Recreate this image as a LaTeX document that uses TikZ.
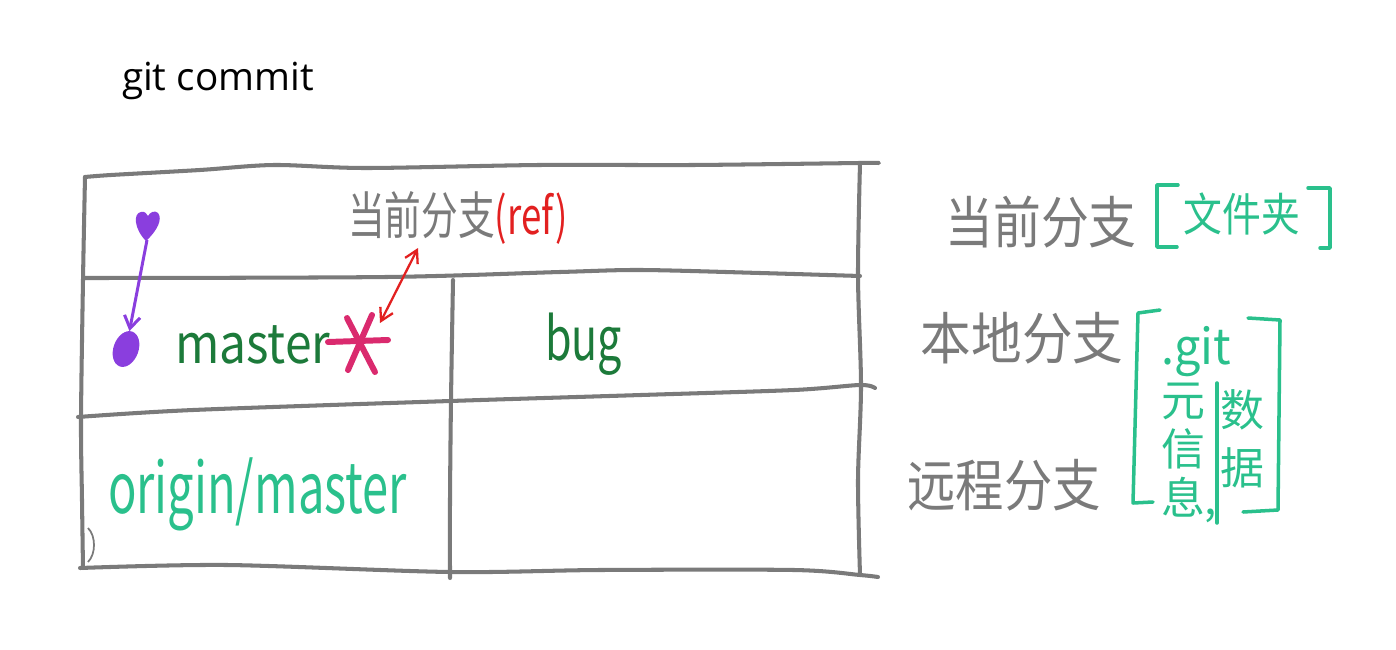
\documentclass[tikz,border=0pt]{standalone}
\usepackage{fontspec}
\setmainfont{Open Sans}
\newfontfamily\cnfont{Noto Sans CJK SC}
\usepackage{xcolor}
\usetikzlibrary{arrows.meta,shapes.geometric}

\definecolor{penGray}{RGB}{122,122,122}
\definecolor{penDark}{RGB}{28,122,58}
\definecolor{penTeal}{RGB}{42,192,140}
\definecolor{penRed}{RGB}{226,32,32}
\definecolor{penPink}{RGB}{218,42,110}
\definecolor{penPurple}{RGB}{138,62,222}

\newcommand{\squeeze}[2]{\scalebox{#1}[1]{#2}}
\newcommand{\pt}[1]{\fontsize{#1}{#1}\selectfont}

\begin{document}
\begin{tikzpicture} [x=0.02cm,y=-0.02cm,
  grid/.style={penGray,line width=2.3pt,line cap=round,line join=round},
  bracket/.style={penTeal,line width=2pt,line cap=round,line join=round},
  hand/.style={inner sep=0pt,outer sep=0pt}]

\useasboundingbox (0,0) rectangle (1396,649);

\node [hand,anchor=base west] (title) at (122,90) {\pt{22}git commit};

% table
\coordinate (tl) at (85,177);
\coordinate (tr) at (860,163);
\coordinate (bl) at (83,568);
\coordinate (br) at (860,575);

\draw[grid] plot[smooth,tension=0.5] coordinates {(tl) (111,175) (200,170) (274,165) (366,168) (539,165) (692,165) (tr) (878,163)};
\draw[grid] plot[smooth,tension=0.5] coordinates {(tl) (83,280) (81,420) (82,500) (bl)};
\draw[grid] plot[smooth,tension=0.5] coordinates {(tr) (858,276) (861,386) (858,480) (br)};
\draw[grid] plot[smooth,tension=0.5] coordinates {(84,278) (386,277) (560,272) (641,270) (760,273) (860,276)};
\draw[grid] plot[smooth,tension=0.5] coordinates {(78,417) (193,410) (450,401) (641,395) (794,390) (860,385) (875,388)};
\draw[grid] plot[smooth,tension=0.5] coordinates {(80,568) (227,565) (450,572) (600,570) (794,570) (br) (878,577)};
\draw[grid] plot[smooth,tension=0.5] coordinates {(453,280) (451,400) (450,500) (450,578)};
\draw[penGray,line width=1pt] (88,528) .. controls (96,536) and (96,554) .. (88,562);

% purple commit
\fill[penPurple] (146,241) .. controls (134,229) and (133,213) .. (141,212)
  .. controls (145,211) and (147,214) .. (148,216)
  .. controls (150,212) and (155,210) .. (158,213)
  .. controls (163,219) and (157,231) .. (146,241) -- cycle;
\coordinate (heart) at (147,240);
\node [hand,ellipse,fill=penPurple,rotate=-20,
  minimum width=0.5cm,minimum height=0.74cm] (dot) at (126,349) {};
\draw[penPurple,line width=1.7pt,-{Straight Barb[length=7pt,width=9pt]}] (heart) -- (dot);

% labels in the table
\node [hand] (ref) at (458,218) {\squeeze{0.72}{\pt{29}\color{penGray}\cnfont 当前分支\color{penRed}(ref)}};
\node [hand,anchor=base west] (master) at (175,363) {\squeeze{0.88}{\pt{31}\color{penDark}\cnfont master}};
\node [hand,anchor=base west] (bug) at (545,360) {\squeeze{0.72}{\pt{34}\color{penDark}\cnfont bug}};
\node [hand,anchor=base west] (origin) at (108,513) {\squeeze{0.67}{\pt{40}\color{penTeal}\cnfont origin/master}};

% HEAD marker
\coordinate (star) at (360,343);
\draw[penPink,line width=3.4pt,line cap=round] (328,342) -- (388,340);
\draw[penPink,line width=3.4pt,line cap=round] (347,318) -- (375,372);
\draw[penPink,line width=3.4pt,line cap=round] (372,315) -- (348,370);
\coordinate (refpt) at (418,248);
\coordinate (starpt) at (380,323);
\draw[penRed,line width=1.3pt,{Straight Barb[length=7pt,width=8pt]}-{Straight Barb[length=7pt,width=8pt]}] (refpt) -- (starpt);

% right side notes
\node [hand] (cur) at (1041,222) {\squeeze{0.85}{\pt{32}\color{penGray}\cnfont 当前分支}};
\node [hand] (loc) at (1022,338) {\squeeze{0.9}{\pt{32}\color{penGray}\cnfont 本地分支}};
\node [hand] (rem) at (1004,485) {\squeeze{0.86}{\pt{32}\color{penGray}\cnfont 远程分支}};

\draw[bracket] (1178,185) -- (1157,185) -- (1157,247) -- (1177,247);
\draw[bracket] (1308,188) -- (1330,188) -- (1330,248) -- (1320,248);
\node [hand] (dir) at (1242,214) {\squeeze{0.85}{\pt{26}\color{penTeal}\cnfont 文件夹}};

\draw[bracket] (1160,310) -- (1138,313) -- (1133,503) -- (1153,502);
\draw[bracket] (1248,318) -- (1280,320) -- (1278,510) -- (1243,512);
\draw[bracket] (1217,383) -- (1217,523);
\node [hand] (git) at (1196,352) {\squeeze{0.95}{\pt{28}\color{penTeal}\cnfont .git}};
\node [hand,align=center,text=penTeal,font=\cnfont\fontsize{25}{28}\selectfont] (meta) at (1183,453) {元\\信\\息\rlap{,}};
\node [hand,align=center,text=penTeal,font=\cnfont\fontsize{25}{33}\selectfont] (data) at (1242,439) {数\\据};

\end{tikzpicture}
\end{document}
